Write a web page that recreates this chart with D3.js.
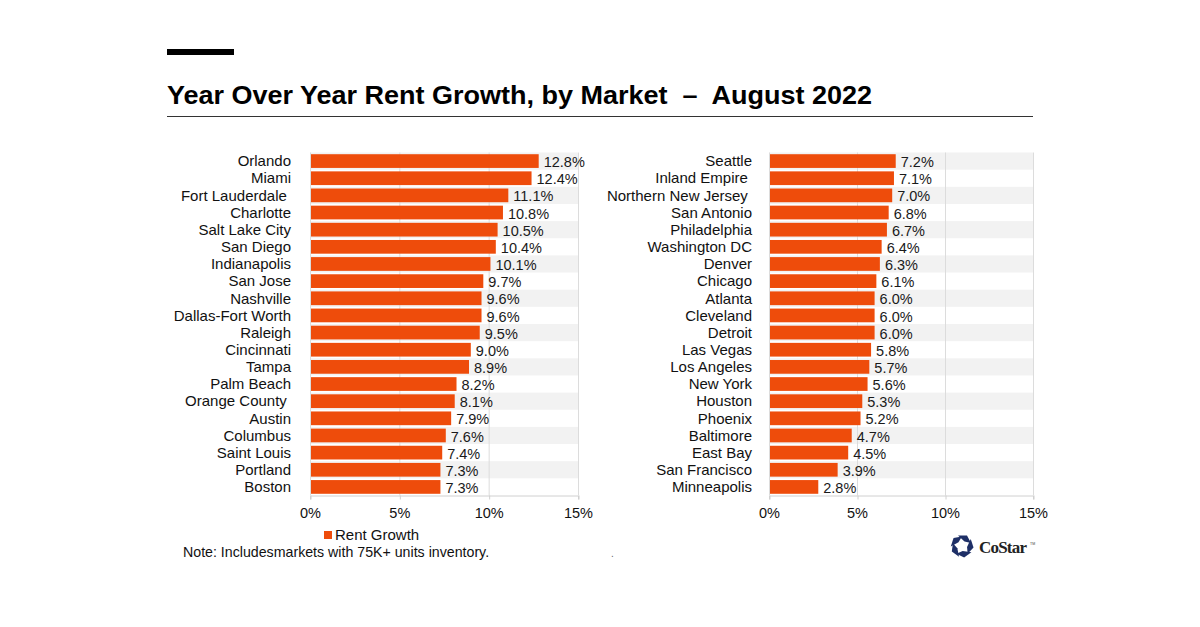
<!DOCTYPE html>
<html>
<head>
<meta charset="utf-8">
<script src="https://cdn.jsdelivr.net/npm/d3@7"></script>
<style>
  html, body { margin: 0; padding: 0; background: #fff; }
  svg { display: block; font-family: "Liberation Sans", Arial, sans-serif; }
  text { white-space: pre; }
</style>
</head>
<body>
<svg id="chart" width="1200" height="627"></svg>
<script>
const leftMarkets = ["Orlando","Miami","Fort Lauderdale ","Charlotte","Salt Lake City","San Diego","Indianapolis","San Jose","Nashville","Dallas-Fort Worth","Raleigh","Cincinnati","Tampa","Palm Beach","Orange County ","Austin","Columbus","Saint Louis","Portland","Boston"];
const leftValues = [12.8,12.4,11.1,10.8,10.5,10.4,10.1,9.7,9.6,9.6,9.5,9.0,8.9,8.2,8.1,7.9,7.6,7.4,7.3,7.3];
const rightMarkets = ["Seattle","Inland Empire ","Northern New Jersey ","San Antonio","Philadelphia","Washington DC","Denver","Chicago","Atlanta","Cleveland","Detroit","Las Vegas","Los Angeles","New York","Houston","Phoenix","Baltimore","East Bay","San Francisco","Minneapolis"];
const rightValues = [7.2,7.1,7.0,6.8,6.7,6.4,6.3,6.1,6.0,6.0,6.0,5.8,5.7,5.6,5.3,5.2,4.7,4.5,3.9,2.8];
const xTicks = [0,5,10,15];
const titleText = "Year Over Year Rent Growth, by Market  \u2013  August 2022";
const seriesName = "Rent Growth";
const noteText = "Note: Includesmarkets with 75K+ units inventory.";

const BAR = "#EE4C0B";
const svg = d3.select("#chart");

// Header
svg.append("rect").attr("x",167).attr("y",49).attr("width",67).attr("height",6).attr("fill","#000");
svg.append("text").attr("x",167).attr("y",104).attr("font-size",26).attr("font-weight","bold")
  .attr("fill","#000").attr("textLength",705).attr("lengthAdjust","spacingAndGlyphs").text(titleText);
svg.append("line").attr("x1",167).attr("x2",1033).attr("y1",116.5).attr("y2",116.5)
  .attr("stroke","#333").attr("stroke-width",1);

function panel(markets, values, x0, x1, labelX) {
  const g = svg.append("g");
  const x = d3.scaleLinear().domain([0,15]).range([x0,x1]);
  const y = d3.scaleBand().domain(markets).range([152.5,495.5]).paddingInner(0.2).paddingOuter(0.1);
  const step = y.step();
  // alternating bands
  g.selectAll("rect.band").data(markets.filter((d,i)=>i%2===0)).join("rect")
    .attr("class","band").attr("x",x(0)).attr("width",x(15)-x(0))
    .attr("y",d=>y(d)-y.paddingInner()*step/2).attr("height",step).attr("fill","#f2f2f2");
  // gridlines
  g.selectAll("line.grid").data(xTicks).join("line").attr("class","grid")
    .attr("x1",d=>x(d)+0.5).attr("x2",d=>x(d)+0.5).attr("y1",152.5).attr("y2",495.5)
    .attr("stroke","#dcdcdc").attr("stroke-width",1);
  // axis
  const ax = g.append("g").attr("transform",`translate(0,495.5)`)
    .call(d3.axisBottom(x).tickValues(xTicks).tickFormat(d=>d+"%").tickSize(4).tickPadding(8));
  ax.select(".domain").attr("stroke","#d0d0d0");
  ax.selectAll(".tick line").attr("stroke","#d0d0d0").attr("transform","translate(0.5,0)");
  ax.selectAll(".tick text").attr("font-size",14.5).attr("fill","#111").attr("font-family","Liberation Sans, Arial, sans-serif");
  // bars
  g.selectAll("rect.bar").data(markets).join("rect").attr("class","bar")
    .attr("x",x(0)+1).attr("y",d=>y(d)).attr("height",y.bandwidth())
    .attr("width",(d,i)=>x(values[i])-x(0)-1).attr("fill",BAR);
  // value labels
  g.selectAll("text.val").data(markets).join("text").attr("class","val")
    .attr("x",(d,i)=>x(values[i])+5).attr("y",d=>y(d)+y.bandwidth()/2+1)
    .attr("dy","0.35em").attr("font-size",14.5).attr("fill","#1a1a1a")
    .text((d,i)=>values[i].toFixed(1)+"%");
  // category labels
  g.selectAll("text.cat").data(markets).join("text").attr("class","cat")
    .attr("x",labelX).attr("y",d=>y(d)+y.bandwidth()/2)
    .attr("dy","0.35em").attr("text-anchor","end").attr("font-size",15).attr("fill","#111")
    .text(d=>d);
}
panel(leftMarkets, leftValues, 310, 578, 291);
panel(rightMarkets, rightValues, 769, 1033, 752);

// Legend
svg.append("rect").attr("x",324).attr("y",531).attr("width",8).attr("height",8).attr("fill",BAR);
svg.append("text").attr("x",335).attr("y",540).attr("font-size",15).attr("fill","#111").text(seriesName);

// Note
svg.append("text").attr("x",183).attr("y",557).attr("font-size",14.2).attr("fill","#111").text(noteText);
svg.append("text").attr("x",611).attr("y",557).attr("font-size",10).attr("fill","#666").text(".");

// CoStar logo
const logo = svg.append("g").attr("transform","translate(962,546)");
for (let k=0;k<5;k++) {
  logo.append("path").attr("d","M-4,-10.5 L5,-10.5 L9,-3 L2.5,-4.5 Z")
    .attr("fill","#1e2f66").attr("transform",`rotate(${k*72})`);
}
svg.append("text").attr("x",979).attr("y",553).attr("font-family","Liberation Serif, DejaVu Serif, serif")
  .attr("font-size",17).attr("font-weight","bold").attr("fill","#222").attr("letter-spacing","-0.8").text("CoStar");
svg.append("text").attr("x",1030).attr("y",545).attr("font-size",3.5).attr("fill","#444").text("TM");
</script>
</body>
</html>
